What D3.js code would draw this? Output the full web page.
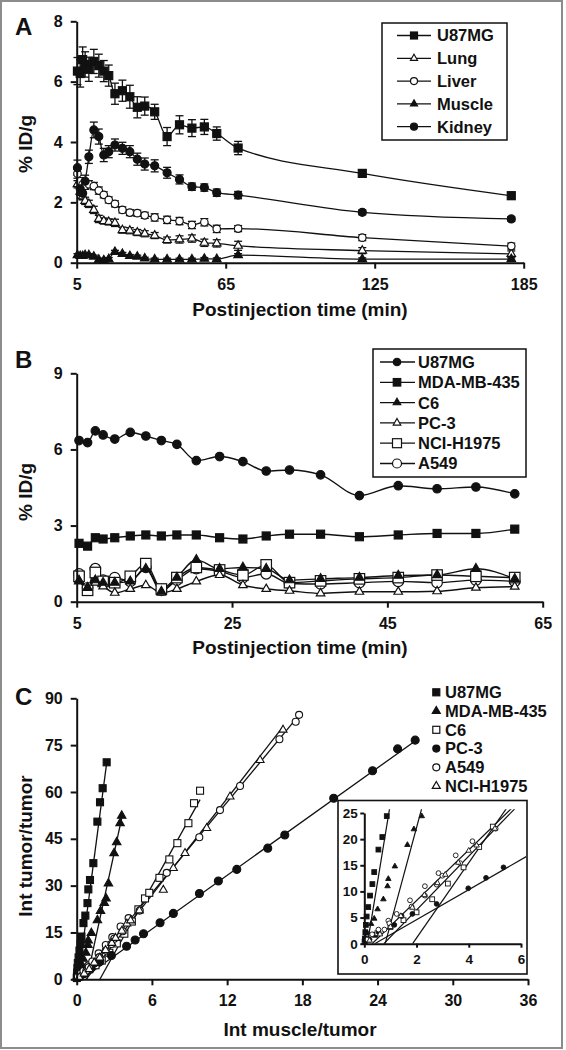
<!DOCTYPE html>
<html><head><meta charset="utf-8">
<script src="https://cdn.jsdelivr.net/npm/d3@7"></script>
<style>
body{margin:0;background:#fff}
svg{display:block}
text{font-family:"Liberation Sans",Arial,sans-serif;font-weight:bold;fill:#111}
</style>
</head><body>
<svg id="c" width="566" height="1050"></svg>
<script>
// ---------------- DATA ----------------
// Panel A
const tA = [5.3, 6.4, 7.4, 8.4, 9.9, 11.9, 13.9, 15.9, 17.9, 20.4, 23.4, 26.4, 29.4, 32.4, 36.4, 41.4, 46.4, 51.4, 56.4, 61.4, 70, 120, 180];
const aU87MG    = [6.35, 6.27, 6.73, 6.57, 6.41, 6.67, 6.53, 6.35, 6.2, 5.6, 5.7, 5.5, 5.15, 5.19, 5.0, 4.18, 4.57, 4.46, 4.5, 4.28, 3.8, 2.96, 2.22];
const aU87MGErr = [0.45, 0.45, 0.42, 0.42, 0.4, 0.4, 0.38, 0.35, 0.35, 0.35, 0.35, 0.38, 0.35, 0.3, 0.25, 0.3, 0.3, 0.28, 0.25, 0.22, 0.22, 0.12, 0.12];
const aLung     = [2.6, 2.35, 2.2, 2.05, 1.95, 1.75, 1.45, 1.38, 1.35, 1.32, 1.08, 1.06, 1.0, 0.96, 0.9, 0.75, 0.77, 0.8, 0.66, 0.64, 0.56, 0.40, 0.29];
const aLungErr  = [0.12, 0.12, 0.12, 0.12, 0.12, 0.12, 0.12, 0.1, 0.1, 0.12, 0.1, 0.1, 0.1, 0.1, 0.1, 0.1, 0.12, 0.12, 0.12, 0.12, 0.15, 0.1, 0.1];
const aLiver    = [2.95, 2.7, 2.6, 2.55, 2.6, 2.54, 2.39, 2.25, 2.08, 1.95, 1.75, 1.66, 1.64, 1.57, 1.5, 1.42, 1.38, 1.25, 1.34, 1.12, 1.13, 0.83, 0.55];
const aLiverErr = [0.15, 0.12, 0.12, 0.12, 0.12, 0.12, 0.12, 0.1, 0.1, 0.1, 0.1, 0.1, 0.1, 0.1, 0.12, 0.12, 0.12, 0.12, 0.12, 0.12, 0.1, 0.1, 0.1];
const aMuscle   = [0.25, 0.22, 0.22, 0.25, 0.25, 0.2, 0.1, 0.08, 0.12, 0.36, 0.29, 0.22, 0.2, 0.14, 0.11, 0.11, 0.11, 0.11, 0.13, 0.12, 0.25, 0.12, 0.12];
const aMuscleErr= [0.05, 0.05, 0.05, 0.05, 0.05, 0.05, 0.05, 0.05, 0.05, 0.05, 0.05, 0.05, 0.05, 0.04, 0.04, 0.04, 0.04, 0.04, 0.04, 0.04, 0.05, 0.04, 0.04];
const aKidney   = [3.15, 2.45, 2.3, 2.7, 3.51, 4.4, 4.18, 3.57, 3.68, 3.9, 3.79, 3.68, 3.43, 3.27, 3.21, 2.98, 2.76, 2.52, 2.49, 2.32, 2.24, 1.67, 1.45];
const aKidneyErr= [0.25, 0.2, 0.2, 0.2, 0.22, 0.26, 0.25, 0.22, 0.2, 0.2, 0.2, 0.2, 0.2, 0.2, 0.2, 0.18, 0.15, 0.12, 0.12, 0.12, 0.12, 0.08, 0.08];
const aTicksX = [5, 65, 125, 185];
const aTicksY = [0, 2, 4, 6, 8];

// Panel B
const tB = [5.3, 6.4, 7.4, 8.4, 9.9, 11.9, 13.9, 15.9, 17.9, 20.4, 23.4, 26.4, 29.4, 32.4, 36.4, 41.4, 46.4, 51.4, 56.4, 61.4];
const bU87MG = [6.35, 6.27, 6.73, 6.57, 6.41, 6.67, 6.53, 6.35, 6.2, 5.56, 5.72, 5.52, 5.15, 5.19, 5.0, 4.18, 4.57, 4.45, 4.52, 4.25];
const bMDA   = [2.3, 2.19, 2.52, 2.47, 2.52, 2.59, 2.63, 2.59, 2.63, 2.63, 2.52, 2.47, 2.59, 2.66, 2.66, 2.56, 2.63, 2.69, 2.69, 2.86];
const bC6    = [0.8, 0.55, 0.85, 0.75, 0.75, 0.8, 1.3, 0.4, 0.95, 1.65, 1.3, 1.35, 1.3, 0.85, 0.9, 0.95, 1.03, 1.05, 1.3, 0.9];
const bPC3   = [0.85, 0.55, 0.75, 0.6, 0.35, 0.5, 0.65, 0.35, 0.5, 0.8, 1.05, 0.65, 0.5, 0.43, 0.33, 0.39, 0.39, 0.41, 0.55, 0.59];
const bNCI   = [1.0, 0.45, 1.15, 0.8, 0.75, 1.0, 1.5, 0.5, 0.95, 1.35, 1.25, 1.05, 1.45, 0.75, 0.82, 0.9, 0.95, 1.05, 1.0, 0.95];
const bA549  = [1.1, 0.55, 1.3, 0.85, 0.95, 0.8, 1.35, 0.45, 0.85, 1.3, 1.2, 0.95, 1.1, 0.72, 0.7, 0.75, 0.8, 0.75, 0.85, 0.8];
const bTicksX = [5, 25, 45, 65];
const bTicksY = [0, 3, 6, 9];

// Panel C  ([Int muscle/tumor, Int tumor/tumor])
const cU87MG = [[0.01,0.4],[0.02,1.0],[0.04,2.2],[0.06,3.6],[0.09,5.2],[0.15,7.0],[0.22,9.2],[0.31,11.4],[0.38,13.7],[0.41,1.7],[0.54,18.0],[0.69,20.4],[0.86,24.4],[0.93,28.8],[1.06,31.8],[1.33,37.2],[1.65,50.5],[1.86,56.7],[2.07,61.2],[2.39,69.5]];
const cMDA   = [[0.05,1.0],[0.12,2.0],[0.26,3.8],[0.38,4.8],[0.51,6.6],[0.73,8.5],[0.89,11.0],[0.92,12.4],[1.17,14.8],[1.65,18.9],[1.9,21.9],[2.2,24.4],[2.34,25.9],[2.53,30.7],[2.98,40.4],[3.19,43.9],[3.46,50.0],[3.59,52.4]];
const cC6    = [[0.15,0.8],[0.5,2.0],[1.0,3.2],[1.5,4.5],[2.0,6.0],[2.6,8.5],[3.2,11.5],[3.8,14.6],[4.4,18.5],[4.92,22.4],[5.45,25.9],[5.79,27.7],[6.6,32.5],[7.39,38.4],[8.03,43.6],[8.91,50.0],[9.36,56.4],[9.84,60.4]];
const cPC3   = [[0.2,0.8],[0.55,2.2],[1.15,3.6],[1.43,5.3],[1.84,5.7],[2.77,7.6],[3.98,10.6],[4.66,12.6],[5.33,14.6],[6.65,18.1],[7.71,21.1],[9.79,27.5],[11.3,31.5],[12.77,35.2],[15.24,42.0],[16.6,46.2],[20.5,58.0],[23.6,66.8],[25.6,73.8],[27.0,76.6]];
const cA549  = [[0.1,0.8],[0.3,1.8],[0.54,2.7],[0.77,2.7],[0.92,4.4],[0.96,3.9],[1.24,5.7],[1.75,8.3],[1.81,7.1],[2.32,9.2],[2.32,11.0],[2.77,11.3],[2.84,13.5],[2.99,13.0],[3.5,16.9],[3.67,15.4],[4.14,19.6],[5.03,22.0],[7.18,34.1],[9.78,45.5],[11.43,54.2],[13.03,61.9],[16.17,76.9],[17.47,82.5],[17.74,84.7]];
const cNCI   = [[0.2,0.6],[0.6,1.8],[1.0,3.2],[1.4,5.3],[1.84,6.9],[2.3,9.3],[2.8,11.6],[3.1,13.2],[3.6,15.5],[4.0,17.8],[4.3,18.8],[5.0,22.0],[6.91,28.6],[7.71,35.6],[8.64,40.4],[10.37,48.4],[12.23,58.5],[14.63,70.2],[16.46,79.9]];
// regression lines: slope and x-intercept
const cNames  = ["U87MG", "MDA-MB-435", "C6", "PC-3", "A549", "NCI-H1975"];
const cSlopes = [30.5, 18.5, 7.2, 2.87, 4.85, 5.15];
const cX0     = [0.12, 0.8, 1.85, 0.4, 0.3, 0.75];
const cTicksX = [0, 6, 12, 18, 24, 30, 36];
const cTicksY = [0, 15, 30, 45, 60, 75, 90];
const iTicksX = [0, 2, 4, 6];
const iTicksY = [0, 5, 10, 15, 20, 25];

// ---------------- DRAWING ----------------
const INK = "#111";
const svg = d3.select("#c");

svg.append("rect").attr("x",1).attr("y",1).attr("width",561).attr("height",1047)
  .attr("fill","none").attr("stroke","#8c8c8c").attr("stroke-width",2);

function marker(g, type, cx, cy, s, filled, sw) {
  const fill = filled ? INK : "#fff";
  let el;
  if (type === "square") {
    el = g.append("rect").attr("x", cx - s/2).attr("y", cy - s/2).attr("width", s).attr("height", s);
  } else if (type === "circle") {
    el = g.append("circle").attr("cx", cx).attr("cy", cy).attr("r", s/2);
  } else {
    const h = s * 0.866;
    el = g.append("path").attr("d",
      `M${cx},${cy - 2*h/3}L${cx + s/2},${cy + h/3}L${cx - s/2},${cy + h/3}Z`);
  }
  el.attr("fill", fill).attr("stroke", INK).attr("stroke-width", sw || 1.2);
}

function styleAxis(g, fs) {
  g.selectAll("path.domain").attr("stroke", INK).attr("stroke-width", 2);
  g.selectAll(".tick line").attr("stroke", INK).attr("stroke-width", 2);
  g.selectAll(".tick text").attr("fill", INK).attr("font-size", fs)
    .attr("font-family", '"Liberation Sans",Arial,sans-serif').attr("font-weight", "bold");
}

function axes(x, y, ticksX, ticksY, fs, ts, pad) {
  const gx = svg.append("g").attr("transform", `translate(0,${y.range()[0]})`)
    .call(d3.axisBottom(x).tickValues(ticksX).tickSize(ts).tickSizeOuter(0).tickPadding(pad.x).tickFormat(d3.format("d")));
  const gy = svg.append("g").attr("transform", `translate(${x.range()[0]},0)`)
    .call(d3.axisLeft(y).tickValues(ticksY).tickSize(ts).tickSizeOuter(0).tickPadding(pad.y).tickFormat(d3.format("d")));
  styleAxis(gx, fs); styleAxis(gy, fs);
}

function title(txt, x, y, rot, fs) {
  const t = svg.append("text").text(txt).attr("font-size", fs).attr("text-anchor", "middle");
  if (rot) t.attr("transform", `translate(${x},${y}) rotate(-90)`).attr("dy", "0.35em");
  else t.attr("x", x).attr("y", y);
}

// ===== Panel A =====
const xA = d3.scaleLinear([5, 185], [76.7, 523.7]);
const yA = d3.scaleLinear([0, 8], [262.7, 21.3]);
const seriesA = [
  {name:"U87MG", v:aU87MG, e:aU87MGErr, type:"square", filled:true, s:8},
  {name:"Lung", v:aLung, e:aLungErr, type:"triangle", filled:false, s:8.5},
  {name:"Liver", v:aLiver, e:aLiverErr, type:"circle", filled:false, s:7.5},
  {name:"Muscle", v:aMuscle, e:aMuscleErr, type:"triangle", filled:true, s:8.5},
  {name:"Kidney", v:aKidney, e:aKidneyErr, type:"circle", filled:true, s:8}
];
const lineA = d3.line().x(d => xA(d[0])).y(d => yA(d[1])).curve(d3.curveMonotoneX);
const gA = svg.append("g");
seriesA.forEach(s => {
  gA.append("path").attr("d", lineA(tA.map((t,i) => [t, s.v[i]])))
    .attr("fill","none").attr("stroke",INK).attr("stroke-width",1.3);
});
seriesA.forEach(s => {
  tA.forEach((t,i) => {
    const x = xA(t), y1 = yA(s.v[i] - s.e[i]), y2 = yA(s.v[i] + s.e[i]);
    gA.append("line").attr("x1",x).attr("x2",x).attr("y1",y1).attr("y2",y2).attr("stroke",INK).attr("stroke-width",1.3);
    [y1,y2].forEach(yy => gA.append("line").attr("x1",x-4).attr("x2",x+4).attr("y1",yy).attr("y2",yy).attr("stroke",INK).attr("stroke-width",1.3));
  });
});
seriesA.forEach(s => {
  tA.forEach((t,i) => marker(gA, s.type, xA(t), yA(s.v[i]), s.s, s.filled));
});
axes(xA, yA, aTicksX, aTicksY, 16, 6, {x: 9.5, y: 8});
title("Postinjection time (min)", 300, 315.5, false, 19);
title("% ID/g", 25, 144, true, 19);
svg.append("text").text("A").attr("x", 15).attr("y", 35).attr("font-size", 24);

// legend A
svg.append("rect").attr("x",382).attr("y",23).attr("width",125).attr("height",117)
  .attr("fill","#fff").attr("stroke",INK).attr("stroke-width",1.5);
seriesA.forEach((s,i) => {
  const y = 35.5 + i*22.8;
  svg.append("line").attr("x1",397).attr("x2",431).attr("y1",y).attr("y2",y).attr("stroke",INK).attr("stroke-width",1.3);
  marker(svg, s.type, 414, y, 7, s.filled);
  svg.append("text").text(s.name).attr("x",437).attr("y",y).attr("dy","0.36em").attr("font-size",16.5);
});

// ===== Panel B =====
const xB = d3.scaleLinear([5, 65], [76.7, 542.7]);
const yB = d3.scaleLinear([0, 9], [601.7, 373.3]);
const seriesB = [
  {name:"U87MG", v:bU87MG, type:"circle", filled:true, s:8.5},
  {name:"MDA-MB-435", v:bMDA, type:"square", filled:true, s:8},
  {name:"C6", v:bC6, type:"triangle", filled:true, s:9},
  {name:"PC-3", v:bPC3, type:"triangle", filled:false, s:8.5},
  {name:"NCI-H1975", v:bNCI, type:"square", filled:false, s:10.5},
  {name:"A549", v:bA549, type:"circle", filled:false, s:10.5}
];
const lineB = d3.line().x(d => xB(d[0])).y(d => yB(d[1])).curve(d3.curveMonotoneX);
const gB = svg.append("g");
seriesB.forEach(s => {
  gB.append("path").attr("d", lineB(tB.map((t,i) => [t, s.v[i]])))
    .attr("fill","none").attr("stroke",INK).attr("stroke-width",1.4);
});
[5,4,3,2,1,0].forEach(k => {
  const s = seriesB[k];
  tB.forEach((t,i) => marker(gB, s.type, xB(t), yB(s.v[i]), s.s, s.filled));
});
axes(xB, yB, bTicksX, bTicksY, 16, 6, {x: 9.5, y: 8});
title("Postinjection time (min)", 300, 654, false, 19);
title("% ID/g", 25, 492, true, 19);
svg.append("text").text("B").attr("x", 15).attr("y", 368).attr("font-size", 24);

svg.append("rect").attr("x",373).attr("y",349).attr("width",153).attr("height",128)
  .attr("fill","#fff").attr("stroke",INK).attr("stroke-width",1.5);
seriesB.forEach((s,i) => {
  const y = 362 + i*20.3;
  svg.append("line").attr("x1",380).attr("x2",415).attr("y1",y).attr("y2",y).attr("stroke",INK).attr("stroke-width",1.3);
  marker(svg, s.type, 397, y, s.s > 10 ? 9 : 7.5, s.filled);
  svg.append("text").text(s.name).attr("x",418).attr("y",y).attr("dy","0.36em").attr("font-size",16.5);
});

// ===== Panel C =====
const xC = d3.scaleLinear([0, 36], [76.7, 528]);
const yC = d3.scaleLinear([0, 90], [979.3, 698.3]);
const seriesC = [
  {pts:cU87MG, type:"square", filled:true, s:7},
  {pts:cMDA, type:"triangle", filled:true, s:8.5},
  {pts:cC6, type:"square", filled:false, s:7},
  {pts:cPC3, type:"circle", filled:true, s:8},
  {pts:cA549, type:"circle", filled:false, s:7},
  {pts:cNCI, type:"triangle", filled:false, s:8}
];
const gC = svg.append("g");
seriesC.forEach((s,k) => {
  const xEnd = d3.max(s.pts, d => d[0]);
  gC.append("line").attr("x1", xC(cX0[k])).attr("y1", yC(0))
    .attr("x2", xC(xEnd)).attr("y2", yC(cSlopes[k]*(xEnd - cX0[k])))
    .attr("stroke",INK).attr("stroke-width",1.3);
});
seriesC.forEach(s => s.pts.forEach(d => marker(gC, s.type, xC(d[0]), yC(d[1]), s.s, s.filled, 1.1)));
axes(xC, yC, cTicksX, cTicksY, 16, 6, {x: 9.5, y: 8});
title("Int muscle/tumor", 300, 1036, false, 19);
title("Int tumor/tumor", 25, 846, true, 19);
svg.append("text").text("C").attr("x", 15).attr("y", 705).attr("font-size", 24);

// legend C
seriesC.forEach((s,i) => {
  const y = 692.3 + i*18.75;
  marker(svg, s.type, 436.3, y, s.type === "triangle" ? 8 : 7, s.filled);
  svg.append("text").text(cNames[i]).attr("x",445).attr("y",y).attr("dy","0.36em").attr("font-size",16.5);
});

// inset
svg.append("rect").attr("x",338).attr("y",800.5).attr("width",189).attr("height",173.5)
  .attr("fill","#fff").attr("stroke",INK).attr("stroke-width",1.6);
const xI = d3.scaleLinear([0, 6], [364.3, 521]);
const yI = d3.scaleLinear([0, 25], [943.7, 813]);
svg.append("clipPath").attr("id","ic").append("rect")
  .attr("x", xI(0)).attr("y", yI(25.7)).attr("width", 526 - xI(0)).attr("height", yI(0) - yI(25.7));
const gI = svg.append("g").attr("clip-path","url(#ic)");
seriesC.forEach((s,k) => {
  const xEnd = d3.max(s.pts, d => d[0]);
  gI.append("line").attr("x1", xI(cX0[k])).attr("y1", yI(0))
    .attr("x2", xI(xEnd)).attr("y2", yI(cSlopes[k]*(xEnd - cX0[k])))
    .attr("stroke",INK).attr("stroke-width",1.2);
});
const gIm = svg.append("g");
seriesC.forEach(s => s.pts.filter(d => d[0] <= 6 && d[1] <= 25)
  .forEach(d => marker(gIm, s.type, xI(d[0]), yI(d[1]), s.type === "triangle" ? 5.5 : 4.8, s.filled, 0.9)));
axes(xI, yI, iTicksX, iTicksY, 13.5, 4, {x: 6.5, y: 2.5});
</script>
</body></html>
